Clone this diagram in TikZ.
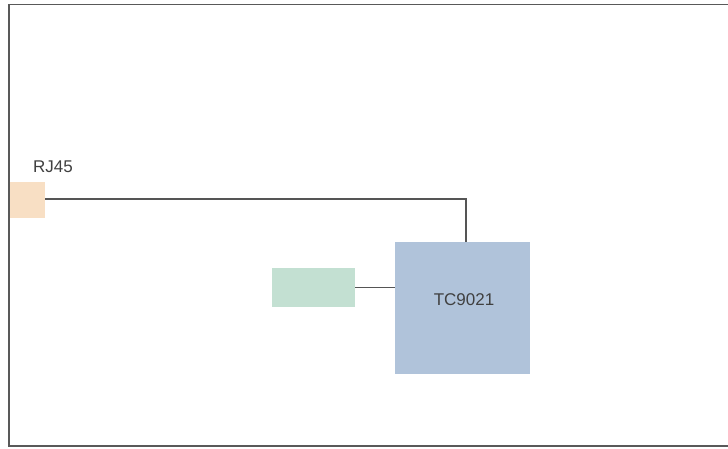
\documentclass[tikz,border=0pt]{standalone}
\usepackage{fontspec}
\setmainfont{Liberation Sans}
\definecolor{peach}{HTML}{F8DFC4}
\definecolor{chipblue}{HTML}{B0C3DA}
\definecolor{mint}{HTML}{C3E0D2}
\definecolor{wire}{HTML}{555555}
\begin{document}
\begin{tikzpicture}[x=1pt,y=-1pt,
  blk/.style={draw=none,inner sep=0pt,outer sep=0pt},
  lbl/.style={inner sep=0pt,text=black!75,font=\fontsize{17}{19}\selectfont},
  conn/.style={draw=wire,line width=1.6pt}]
\useasboundingbox (0,0) rectangle (728,448);
\fill[white] (0,0) rectangle (728,448);
\draw[draw=black!65,line width=1.5pt] (730,4.5) -- (9,4.5) -- (9,446) -- (730,446);
\node[blk,fill=peach,minimum width=35pt,minimum height=36pt] (rj) at (27.5,200) {};
\node[lbl,anchor=west] (rjl) at (33,167) {RJ45};
\node[blk,fill=chipblue,minimum width=135pt,minimum height=132pt] (tc) at (462.5,308) {};
\node[lbl] (tcl) at (464,300) {TC9021};
\node[blk,fill=mint,minimum width=83pt,minimum height=39pt] (gr) at (313.5,287.5) {};
\coordinate (bend) at (466,199);
\draw[conn] (rj.east |- bend) -- (bend) -- (bend |- tc.north);
\draw[conn] (gr.east) -- (gr.east -| tc.west);
\end{tikzpicture}
\end{document}
